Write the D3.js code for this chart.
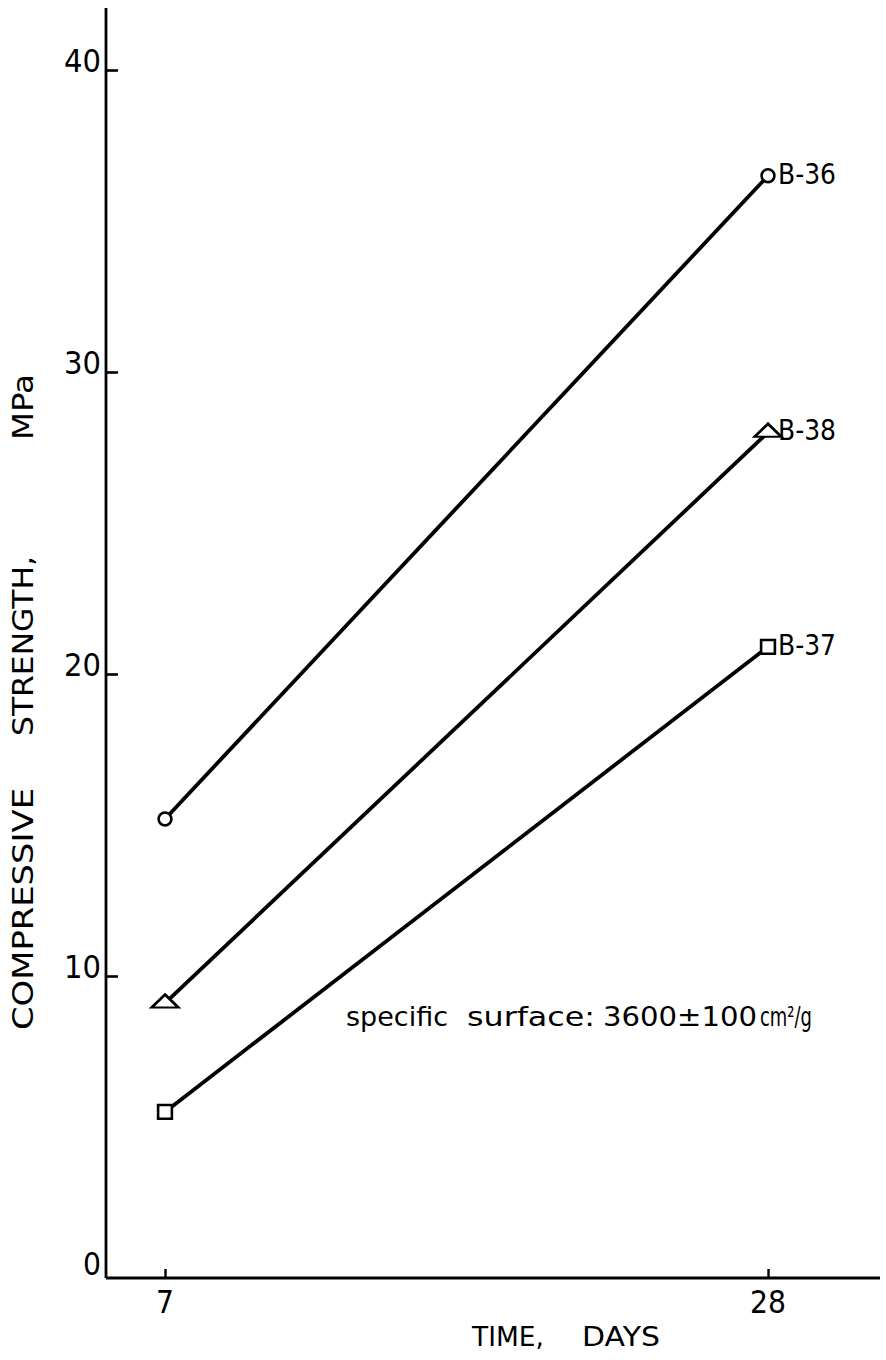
<!DOCTYPE html>
<html><head><meta charset="utf-8">
<script src="https://cdn.jsdelivr.net/npm/d3@7"></script>
<style>body{margin:0;background:#fff}svg{display:block}text{white-space:pre}</style>
</head><body>
<script>
const days = [7, 28];
const seriesNames = ["B-36", "B-38", "B-37"];
const seriesSymbols = ["circle", "triangle", "square"];
const b36 = [15.2, 36.5];
const b38 = [9.1, 28.0];
const b37 = [5.5, 20.9];
const yTicks = [0, 10, 20, 30, 40];
const xTicks = [7, 28];
const yTitleWords = ["COMPRESSIVE", "STRENGTH,", "MPa"];
const xTitleWords = ["TIME,", "DAYS"];
const noteWords = ["specific", "surface:", "3600\u00b1100", "cm\u00b2/g"];

const W = 886, H = 1360;
const svg = d3.select("body").append("svg").attr("width", W).attr("height", H);
const font = "DejaVu Sans, sans-serif";
const x = d3.scaleLinear().domain([7, 28]).range([165, 768]);
const y = d3.scaleLinear().domain([0, 40]).range([1278, 70]);
const x0 = 106;

svg.append("line").attr("x1", x0).attr("x2", x0).attr("y1", 8).attr("y2", y(0))
  .attr("stroke", "#000").attr("stroke-width", 2.8);
svg.append("line").attr("x1", x0).attr("x2", 880).attr("y1", y(0)).attr("y2", y(0))
  .attr("stroke", "#000").attr("stroke-width", 2.8);

const yAxis = d3.axisRight(y).tickValues(yTicks.filter(d => d > 0)).tickSize(12).tickFormat("");
const gy = svg.append("g").attr("transform", `translate(${x0},0)`).call(yAxis);
gy.select(".domain").remove();
gy.selectAll(".tick line").attr("stroke", "#000").attr("stroke-width", 2.6);
svg.selectAll(".ylab").data(yTicks).enter().append("text")
  .attr("x", x0 - 5).attr("y", d => y(d) - (d === 0 ? 12 : 7))
  .attr("text-anchor", "end").attr("dominant-baseline", "middle")
  .attr("font-family", font).attr("font-size", 32)
  .attr("textLength", d => d === 0 ? 18 : 37).attr("lengthAdjust", "spacingAndGlyphs")
  .text(d => d);

const xAxis = d3.axisTop(x).tickValues(xTicks).tickSize(9).tickFormat("");
const gx = svg.append("g").attr("transform", `translate(0,${y(0)})`).call(xAxis);
gx.select(".domain").remove();
gx.selectAll(".tick line").attr("stroke", "#000").attr("stroke-width", 2.4);
svg.selectAll(".xlab").data(xTicks).enter().append("text")
  .attr("x", d => x(d)).attr("y", y(0) + 35)
  .attr("text-anchor", "middle").attr("font-family", font).attr("font-size", 32)
  .attr("textLength", d => d < 10 ? 18 : 36).attr("lengthAdjust", "spacingAndGlyphs")
  .text(d => d);

function wordsText(sel, words, pos) {
  words.forEach((w, i) => {
    sel.append("tspan").attr("x", pos[i][0])
      .attr("textLength", pos[i][1]).attr("lengthAdjust", "spacingAndGlyphs").text(w);
    if (i < words.length - 1) sel.append("tspan").text(" ");
  });
}

const xt = svg.append("text").attr("y", 1346).attr("font-family", font).attr("font-size", 27);
wordsText(xt, xTitleWords, [[472, 72], [582, 78]]);

const yt = svg.append("text").attr("transform", "translate(33,0) rotate(-90)")
  .attr("font-family", font).attr("font-size", 29);
wordsText(yt, yTitleWords, [[-1030, 242], [-736, 180], [-440, 66]]);

const data = [b36, b38, b37];
const line = d3.line().x((d, i) => x(days[i])).y(d => y(d));
data.forEach(vals => {
  svg.append("path").attr("d", line(vals)).attr("fill", "none")
    .attr("stroke", "#000").attr("stroke-width", 3.8);
});
const symMap = {circle: d3.symbolCircle, triangle: d3.symbolTriangle, square: d3.symbolSquare};
const symSize = {circle: 130, triangle: 170, square: 190};
data.forEach((vals, k) => {
  const s = seriesSymbols[k];
  vals.forEach((v, i) => {
    const sym = d3.symbol().type(symMap[s]).size(symSize[s]);
    let sx = 1, sy = 1;
    if (s === "triangle") { sx = 1.35; sy = 0.75; }
    svg.append("path").attr("d", sym())
      .attr("transform", `translate(${x(days[i])},${y(v)}) scale(${sx},${sy})`)
      .attr("fill", "#fff").attr("stroke", "#000").attr("stroke-width", 2.6);
  });
  svg.append("text").attr("x", x(28) + 10).attr("y", y(vals[1]))
    .attr("dominant-baseline", "middle").attr("font-family", font).attr("font-size", 29)
    .attr("textLength", 58).attr("lengthAdjust", "spacingAndGlyphs")
    .text(seriesNames[k]);
});

const nt = svg.append("text").attr("y", 1026).attr("font-family", font).attr("font-size", 27);
wordsText(nt, noteWords, [[346, 102], [467, 128], [603, 154], [760, 52]]);
</script>
</body></html>
